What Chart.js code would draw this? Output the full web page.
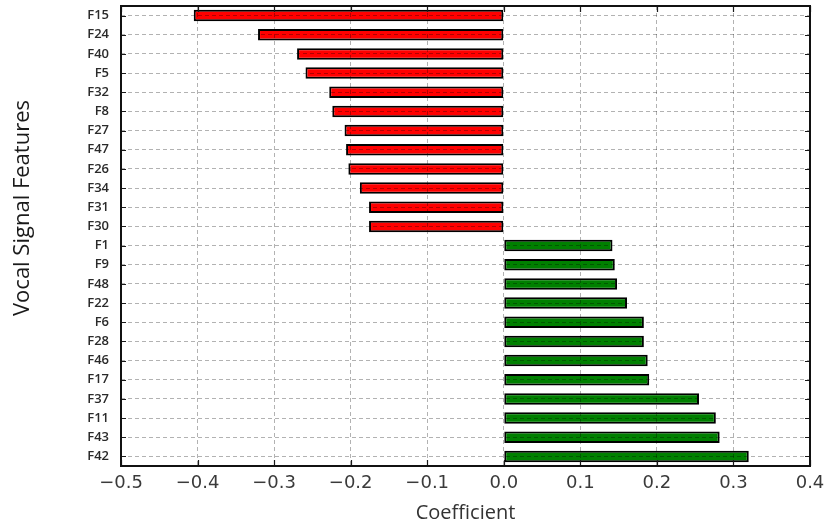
<!DOCTYPE html>
<html>
<head>
<meta charset="utf-8">
<script src="https://cdn.jsdelivr.net/npm/chart.js@4/dist/chart.umd.min.js"></script>
<style>
  html, body { margin: 0; padding: 0; background: #fff; }
  #wrap { width: 828px; height: 529px; }
</style>
</head>
<body>
<div id="wrap"><canvas id="c" width="828" height="529"></canvas></div>
<script>
// Feature names, top to bottom
const features = ['F15', 'F24', 'F40', 'F5', 'F32', 'F8', 'F27', 'F47', 'F26', 'F34', 'F31', 'F30',
                  'F1', 'F9', 'F48', 'F22', 'F6', 'F28', 'F46', 'F17', 'F37', 'F11', 'F43', 'F42'];
// Regression coefficient of each feature
const coefficients = [-0.405, -0.321, -0.270, -0.259, -0.228, -0.224, -0.208, -0.206, -0.203, -0.188, -0.176, -0.176,
                      0.142, 0.145, 0.148, 0.161, 0.183, 0.183, 0.188, 0.190, 0.255, 0.277, 0.282, 0.320];
// Coefficient axis tick values and labels
const xTickValues = [-0.5, -0.4, -0.3, -0.2, -0.1, 0.0, 0.1, 0.2, 0.3, 0.4];
const xTickLabels = ['\u22120.5', '\u22120.4', '\u22120.3', '\u22120.2', '\u22120.1', '0.0', '0.1', '0.2', '0.3', '0.4'];

const yTitle = 'Vocal Signal Features';
const xTitle = 'Coefficient';

// Closed frame with inward tick marks on all four sides, plus the rotated y title
const framePlugin = {
  id: 'frame',
  afterDraw(chart) {
    const { ctx, chartArea: a, scales } = chart;
    ctx.save();
    ctx.strokeStyle = '#1a1a1a';
    ctx.lineWidth = 1.2;
    ctx.beginPath();
    scales.y.ticks.forEach((t, i) => {
      const py = Math.round(scales.y.getPixelForTick(i)) + 0.5;
      ctx.moveTo(a.left, py); ctx.lineTo(a.left + 5, py);
      ctx.moveTo(a.right, py); ctx.lineTo(a.right - 5, py);
    });
    scales.x.ticks.forEach((t, i) => {
      const px = Math.round(scales.x.getPixelForTick(i)) + 0.5;
      ctx.moveTo(px, a.bottom); ctx.lineTo(px, a.bottom - 6);
      ctx.moveTo(px, a.top); ctx.lineTo(px, a.top + 6);
    });
    ctx.stroke();
    ctx.lineWidth = 2;
    ctx.strokeStyle = '#111';
    ctx.strokeRect(a.left, a.top, a.right - a.left, a.bottom - a.top);

    ctx.translate(23, 208);
    ctx.rotate(-Math.PI / 2);
    ctx.fillStyle = '#1a1a1a';
    ctx.font = '22px "Open Sans"';
    ctx.textAlign = 'center';
    ctx.textBaseline = 'middle';
    ctx.fillText(yTitle, 0, 0);
    ctx.restore();
  }
};

new Chart(document.getElementById('c'), {
  type: 'bar',
  data: {
    labels: features,
    datasets: [{
      data: coefficients,
      backgroundColor: coefficients.map(v => v < 0 ? '#ff0000' : '#008000'),
      borderColor: '#000000',
      borderWidth: 2,
      borderSkipped: false,
      categoryPercentage: 1.0,
      barPercentage: 0.6
    }]
  },
  options: {
    indexAxis: 'y',
    responsive: false,
    animation: false,
    devicePixelRatio: 1,
    layout: { padding: { top: 6, right: 18, left: 0, bottom: 0 } },
    plugins: { legend: { display: false }, tooltip: { enabled: false } },
    scales: {
      x: {
        type: 'linear',
        min: -0.5,
        max: 0.4,
        z: 1,
        afterBuildTicks(scale) { scale.ticks = xTickValues.map(v => ({ value: v })); },
        afterFit(scale) { scale.height = 63; scale.paddingLeft = 0; scale.paddingRight = 0; },
        ticks: {
          padding: 7,
          color: '#3a3a3a',
          font: { family: '"DejaVu Sans"', size: 18 },
          callback: (v, i) => xTickLabels[i]
        },
        grid: { z: 1, color: 'rgba(0,0,0,0.3)', lineWidth: 1, drawTicks: false },
        border: { display: false, dash: [4, 3] },
        title: {
          display: true,
          text: xTitle,
          color: '#333',
          font: { family: '"Open Sans"', size: 20 },
          padding: { top: 0, bottom: 4 }
        }
      },
      y: {
        type: 'category',
        z: 1,
        afterFit(scale) { scale.width = 121; scale.paddingTop = 0; scale.paddingBottom = 0; },
        ticks: {
          padding: 12,
          color: '#2a2a2a',
          font: { family: '"Open Sans"', size: 13, weight: 600 },
          autoSkip: false
        },
        grid: { z: 1, offset: false, color: 'rgba(0,0,0,0.3)', lineWidth: 1, drawTicks: false },
        border: { display: false, dash: [4, 3] }
      }
    }
  },
  plugins: [framePlugin]
});
</script>
</body>
</html>
